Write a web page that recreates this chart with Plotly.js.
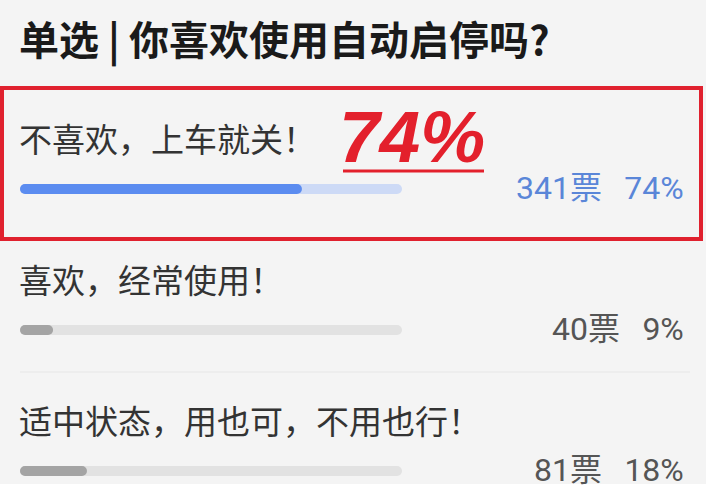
<!DOCTYPE html>
<html>
<head>
<meta charset="utf-8">
<script src="https://cdn.plot.ly/plotly-3.0.1.min.js"></script>
<style>html,body{margin:0;padding:0;background:#f4f4f4;}#chart{width:706px;height:497px;}</style>
</head>
<body>
<div id="chart"></div>
<script>
// ---- data ----
var title = "单选 | 你喜欢使用自动启停吗?";
var options = ["不喜欢，上车就关！", "喜欢，经常使用！", "适中状态，用也可，不用也行！"];
var votes = [341, 40, 81];
var percents = [74, 9, 18];
var highlightText = "74%";

// ---- styles ----
var W = 706, H = 497;
var trackColors = ["#cddaf6", "#e2e2e2", "#e2e2e2"];
var fillColors = ["#5b8cf0", "#a4a4a4", "#a4a4a4"];
var numColors = ["#5a86d8", "#555555", "#555555"];
var total = votes.reduce(function(a, b){ return a + b; }, 0);
var share = votes.map(function(v){ return v / total * 100; });
var full = options.map(function(){ return 100; });
var zeros = options.map(function(){ return 0; });

var barW = 10 / 141;
function bar(len, colors) {
  return {
    type: "bar", orientation: "h", y: options, x: len, base: zeros,
    width: barW, marker: {color: colors, cornerradius: 5, line: {width: 0}},
    hoverinfo: "skip", showlegend: false
  };
}
var data = [bar(full, trackColors), bar(share, fillColors)];

function px(x){ return x / W; }
function py(y){ return 1 - y / H; }

var annotations = [];
annotations.push({
  xref: "paper", yref: "paper", x: px(17), y: py(38), xanchor: "left", yanchor: "middle",
  text: "<b>" + title + "</b>", showarrow: false,
  font: {family: "Noto Sans CJK SC", size: 40, color: "#1a1a1a"}
});
options.forEach(function(o, i){
  annotations.push({
    xref: "paper", yref: "y", x: px(17), y: i - 0.365, xanchor: "left", yanchor: "middle",
    text: o, showarrow: false,
    font: {family: "Noto Sans CJK SC", size: 33, color: "#333333"}
  });
  annotations.push({
    xref: "paper", yref: "y", x: px(686), y: i - 0.01, xanchor: "right", yanchor: "middle",
    text: votes[i] + "票\u00a0\u00a0\u2009" + percents[i] + "%", showarrow: false,
    font: {family: "Roboto, Noto Sans CJK SC", size: 32, color: numColors[i]}
  });
});
annotations.push({
  xref: "paper", yref: "paper", x: px(337), y: py(137), xanchor: "left", yanchor: "middle",
  text: "<b><i>" + highlightText + "</i></b>", showarrow: false,
  font: {family: "Liberation Sans, Arial", size: 73, color: "#e3202c"}
});

var shapes = [
  {type: "line", xref: "paper", yref: "paper", x0: px(20), x1: px(690), y0: py(372), y1: py(372),
   line: {color: "#e6e6e6", width: 1}},
  {type: "line", xref: "paper", yref: "paper", x0: px(343), x1: px(484), y0: py(171), y1: py(171),
   line: {color: "#e3202c", width: 3}},
  {type: "rect", xref: "paper", yref: "paper", x0: px(2), x1: px(701), y0: py(88), y1: py(239),
   line: {color: "#e0212e", width: 4}, fillcolor: "rgba(0,0,0,0)"},
  {type: "rect", xref: "paper", yref: "paper", x0: 0, x1: 1, y0: 0, y1: py(484),
   line: {width: 0}, fillcolor: "#ffffff", layer: "below"}
];

var layout = {
  width: W, height: H,
  margin: {l: 0, r: 0, t: 0, b: 0, pad: 0},
  paper_bgcolor: "#f4f4f4", plot_bgcolor: "rgba(0,0,0,0)",
  barmode: "overlay",
  xaxis: {domain: [px(20), px(402)], range: [0, 100], visible: false, fixedrange: true},
  yaxis: {type: "category", range: [(H - 189) / 141, -189 / 141], visible: false, fixedrange: true},
  annotations: annotations, shapes: shapes, showlegend: false
};
Plotly.newPlot("chart", data, layout, {staticPlot: true, displayModeBar: false});
</script>
</body>
</html>
